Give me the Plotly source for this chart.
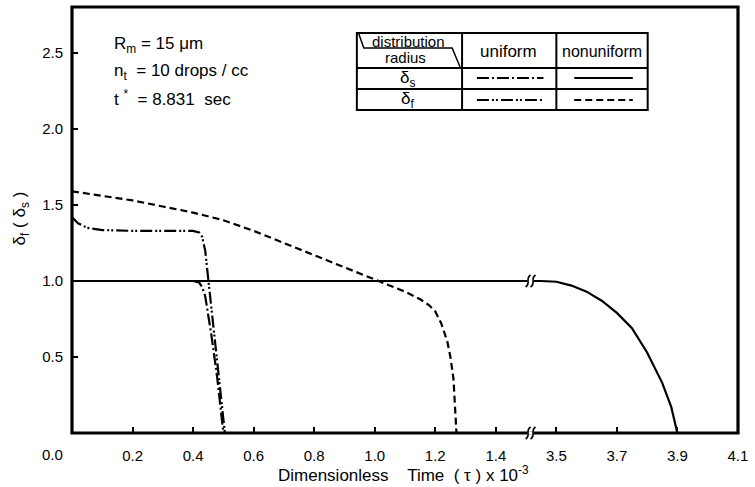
import plotly.graph_objects as go

# ---------------- data ----------------
uni_s_t = [0.0, 0.10, 0.20, 0.30, 0.40, 0.42, 0.43, 0.44, 0.46, 0.48, 0.50]
uni_s_v = [1.0, 1.0, 1.0, 1.0, 1.0, 0.99, 0.96, 0.90, 0.65, 0.36, 0.0]

uni_f_t = [0.0, 0.02, 0.05, 0.10, 0.20, 0.30, 0.40, 0.42, 0.43, 0.44, 0.45, 0.47, 0.49, 0.505]
uni_f_v = [1.42, 1.38, 1.35, 1.335, 1.33, 1.33, 1.33, 1.32, 1.29, 1.20, 1.02, 0.66, 0.30, 0.0]

non_s_t = [0.0, 3.45, 3.50, 3.55, 3.60, 3.65, 3.70, 3.75, 3.80, 3.85, 3.88, 3.90]
non_s_v = [1.0, 1.0, 0.995, 0.97, 0.93, 0.87, 0.79, 0.69, 0.53, 0.33, 0.17, 0.0]

non_f_t = [0.0, 0.1, 0.2, 0.3, 0.4, 0.5, 0.6, 0.7, 0.8, 0.9, 1.0, 1.05, 1.1, 1.15,
           1.18, 1.2, 1.22, 1.24, 1.25, 1.26, 1.265, 1.27]
non_f_v = [1.59, 1.56, 1.53, 1.49, 1.45, 1.40, 1.33, 1.25, 1.17, 1.09, 1.01, 0.97,
           0.93, 0.88, 0.84, 0.80, 0.72, 0.60, 0.50, 0.36, 0.20, 0.0]

x_ticks_left = [0.2, 0.4, 0.6, 0.8, 1.0, 1.2, 1.4]
x_ticks_right = [3.5, 3.7, 3.9, 4.1]
y_ticks = [0.5, 1.0, 1.5, 2.0, 2.5]

# ---------------- geometry helpers ----------------
W, H = 755, 487
L, R, T, B = 72, 743, 7, 433
PW, PH = R - L, B - T
BREAK_PX = 534
dom_split = (BREAK_PX - L) / PW


def px(x):
    return (x - L) / PW


def py(y):
    return (B - y) / PH


FONT = "Liberation Sans, Arial, sans-serif"
NARROW = "Liberation Sans Narrow, Arial Narrow, Liberation Sans, sans-serif"

fig = go.Figure()

DASHDOT = "12px,3px,2px,3px"
DASHDOTDOT = "12px,3px,2px,2px,2px,3px"
LW = 2.2

for xa in ["x", "x2"]:
    fig.add_trace(go.Scatter(x=non_s_t, y=non_s_v, mode="lines", xaxis=xa, yaxis="y",
                             line=dict(color="black", width=LW), showlegend=False))
fig.add_trace(go.Scatter(x=non_f_t, y=non_f_v, mode="lines", xaxis="x", yaxis="y",
                         line=dict(color="black", width=LW, dash="7px,4px"), showlegend=False))
fig.add_trace(go.Scatter(x=uni_s_t, y=uni_s_v, mode="lines", xaxis="x", yaxis="y",
                         line=dict(color="black", width=LW, dash=DASHDOT), showlegend=False))
fig.add_trace(go.Scatter(x=uni_f_t, y=uni_f_v, mode="lines", xaxis="x", yaxis="y",
                         line=dict(color="black", width=LW, dash=DASHDOTDOT), showlegend=False))

tickfont = dict(family=NARROW, size=15, color="black")

fig.update_layout(
    width=W, height=H,
    margin=dict(l=L, r=W - R, t=T, b=H - B, pad=0),
    paper_bgcolor="white", plot_bgcolor="white",
    xaxis=dict(domain=[0, dom_split], range=[0, (BREAK_PX - L) / 305.0],
               tickvals=x_ticks_left, ticktext=[f"{v:.1f}" for v in x_ticks_left],
               ticks="inside", ticklen=6, tickwidth=1.5, tickcolor="black",
               showgrid=False, zeroline=False, showline=False,
               tickfont=tickfont, ticklabelstandoff=12, anchor="y"),
    xaxis2=dict(domain=[dom_split, 1], range=[4.1 - (R - BREAK_PX) / 305.0, 4.1005],
                tickvals=x_ticks_right, ticktext=[f"{v:.1f}" for v in x_ticks_right],
                ticks="inside", ticklen=6, tickwidth=1.5, tickcolor="black",
                showgrid=False, zeroline=False, showline=False,
                tickfont=tickfont, ticklabelstandoff=12, anchor="y"),
    yaxis=dict(range=[0, PH / 152.0], tickvals=y_ticks,
               ticktext=[f"{v:.1f}" for v in y_ticks],
               ticks="inside", ticklen=6, tickwidth=1.5, tickcolor="black",
               showgrid=False, zeroline=False, showline=False,
               tickfont=tickfont, ticklabelstandoff=8, anchor="x"),
)

shapes = []
# frame
shapes.append(dict(type="rect", xref="paper", yref="paper", x0=0, y0=0, x1=1, y1=1,
                   line=dict(color="black", width=3.2), layer="above"))


def s_curve(xc, yc):
    a = f"M {px(xc - 2.5)},{py(yc + 6)} C {px(xc + 3.5)},{py(yc + 2)} {px(xc - 3.5)},{py(yc - 2)} {px(xc + 2.5)},{py(yc - 6)}"
    return dict(type="path", xref="paper", yref="paper", path=a,
                line=dict(color="black", width=1.6), layer="above")


for yc in [B - 152, B]:
    shapes.append(dict(type="rect", xref="paper", yref="paper",
                       x0=px(BREAK_PX - 3), x1=px(BREAK_PX + 3), y0=py(yc + 1.6), y1=py(yc - 1.6),
                       fillcolor="white", line=dict(width=0), layer="above"))
    shapes.append(s_curve(BREAK_PX - 2.5, yc))
    shapes.append(s_curve(BREAK_PX + 2.5, yc))

# legend table
TX0, TX1, TX2, TX3 = 359, 465, 560, 652
TY0, TY1, TY2, TY3 = 33, 68, 89, 110
lw = dict(color="black", width=2)
shapes.append(dict(type="rect", xref="paper", yref="paper", x0=px(TX0), x1=px(TX3),
                   y0=py(TY3), y1=py(TY0), line=lw, fillcolor="white", layer="above"))
for xx in [TX1, TX2]:
    shapes.append(dict(type="line", xref="paper", yref="paper", x0=px(xx), x1=px(xx),
                       y0=py(TY3), y1=py(TY0), line=lw, layer="above"))
for yy in [TY1, TY2]:
    shapes.append(dict(type="line", xref="paper", yref="paper", x0=px(TX0), x1=px(TX3),
                       y0=py(yy), y1=py(yy), line=lw, layer="above"))
# header diagonal
hp = (f"M {px(361)},{py(34)} L {px(366)},{py(48)} L {px(455)},{py(48)} L {px(463)},{py(67)}")
shapes.append(dict(type="path", xref="paper", yref="paper", path=hp,
                   line=dict(color="black", width=1.5), layer="above"))
# legend samples
samples = [
    (480, 547, 78, DASHDOT),
    (480, 547, 100, DASHDOTDOT),
    (578, 637, 78, "solid"),
    (578, 637, 100, "7px,4px"),
]
for x0, x1, yy, d in samples:
    shapes.append(dict(type="line", xref="paper", yref="paper", x0=px(x0), x1=px(x1),
                       y0=py(yy), y1=py(yy), line=dict(color="black", width=1.8, dash=d),
                       layer="above"))

fig.update_layout(shapes=shapes)

ann = []


def text(x, y, s, size=16, xanchor="center", family=FONT, angle=0):
    ann.append(dict(x=px(x), y=py(y), xref="paper", yref="paper", text=s, showarrow=False,
                    xanchor=xanchor, yanchor="middle", textangle=angle,
                    font=dict(family=family, size=size, color="black")))


text(52, 454, "0.0", size=15, family=NARROW)
text(406, 474, "Dimensionless&nbsp;&nbsp;&nbsp; Time&nbsp;&nbsp;( τ ) x 10<sup>-3</sup>", size=17)
text(21, 218, "δ<sub>f</sub> ( δ<sub>s</sub> )", size=17, angle=-90)
text(112, 45, "R<sub>m</sub> = 15 μm", size=17, xanchor="left")
text(112, 72, "n<sub>t</sub>&nbsp; = 10 drops / cc", size=17, xanchor="left")
text(112, 98, "t <sup>*</sup>&nbsp; = 8.831&nbsp; sec", size=17, xanchor="left")
text(411, 41, "distribution", size=15)
text(408, 58, "radius", size=15)
text(512, 52, "uniform", size=17)
text(606, 52, "nonuniform", size=16)
text(410, 79, "δ<sub>s</sub>", size=17)
text(410, 100, "δ<sub>f</sub>", size=17)

fig.update_layout(annotations=ann)

fig.write_html("out.html")
